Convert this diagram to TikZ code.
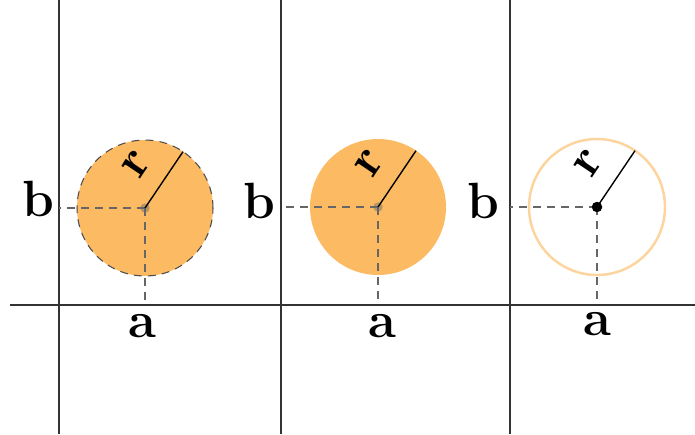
\documentclass[tikz,border=0pt]{standalone}
\usepackage{xcolor}
\usepackage{tikz}
\usetikzlibrary{calc}

\definecolor{discfill}{RGB}{252,186,98}
\definecolor{discline}{RGB}{253,212,158}

\begin{document}
\begin{tikzpicture}[
    x=0.02cm, y=-0.02cm,
    every node/.style={font=\fontsize{29}{33}\selectfont\bfseries},
    axisline/.style={draw=black!80, line width=1.1pt},
    guide/.style={draw=black!60, line width=0.6pt, dash pattern=on 4.5pt off 3.5pt},
    disc/.style={circle, minimum size=2.72cm, inner sep=0pt, outer sep=0pt},
    rline/.style={draw=black, line width=0.8pt},
    dot/.style={circle, inner sep=0pt, minimum size=#1},
    lbl/.style={anchor=base, inner sep=0pt}
]
\useasboundingbox (0,0) rectangle (695,434);

% axes
\coordinate (h0) at (10,305);
\coordinate (h1) at (695,305);
\draw[axisline] (h0) -- (h1);
\foreach \x [count=\i] in {59,281,510} {
  \coordinate (top\i) at (\x,0);
  \coordinate (bot\i) at (\x,434);
  \draw[axisline] (top\i) -- (bot\i);
}

% discs
\node[disc, fill=discfill, draw=black!70, line width=0.6pt, dash pattern=on 4.5pt off 3.5pt] (disc1) at (145,208) {};
\node[disc, fill=discfill] (disc2) at (378,207) {};
\node[disc, draw=discline, line width=1.4pt] (disc3) at (597,207) {};

% guides
\foreach \i in {1,2,3} {
  \draw[guide] (disc\i.center) -- (disc\i.center -| top\i);
  \draw[guide] (disc\i.center) -- (disc\i.center |- h0);
}

% centres
\node[dot=0.19cm, fill=black!60, opacity=0.45] (o1) at (disc1.center) {};
\node[dot=0.19cm, fill=black!60, opacity=0.45] (o2) at (disc2.center) {};
\node[dot=0.21cm, fill=black] (o3) at (disc3.center) {};

% radii
\foreach \i in {1,2,3}
  \draw[rline] (disc\i.center) -- node[sloped, pos=0.46, above=11pt, inner sep=0pt] (r\i) {r} (disc\i.56);

% labels
\node[lbl] (b1) at (38,216) {b};
\node[lbl] (b2) at (259,218) {b};
\node[lbl] (b3) at (483,218) {b};
\node[lbl] (a1) at (142,337) {a};
\node[lbl] (a2) at (382,337) {a};
\node[lbl] (a3) at (597,335) {a};

\end{tikzpicture}
\end{document}
